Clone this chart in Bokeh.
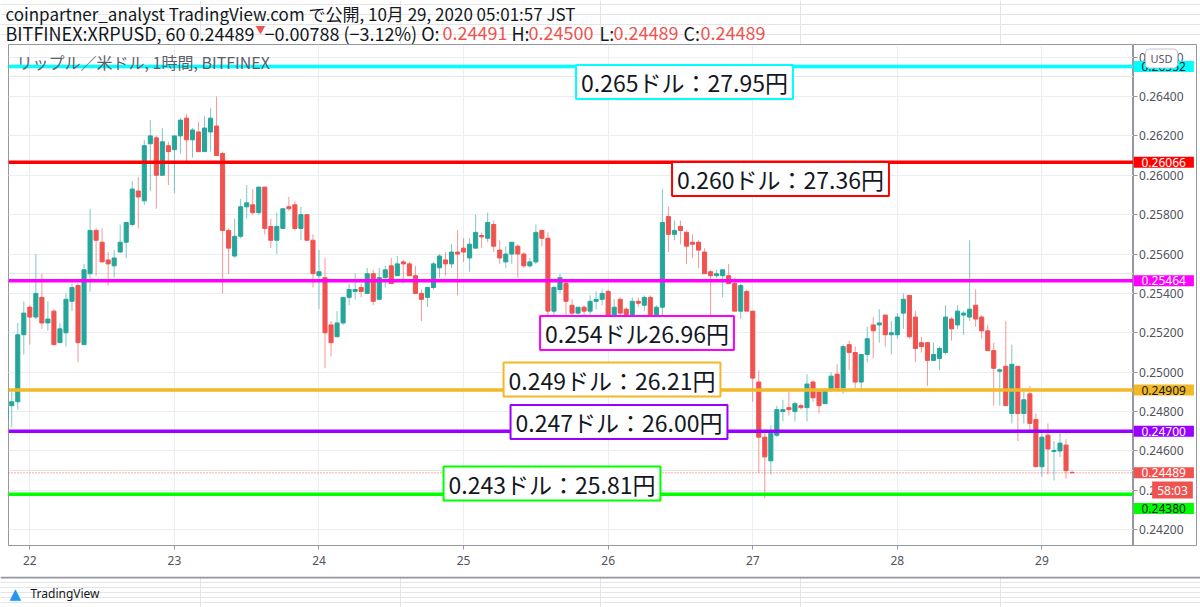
from bokeh.plotting import figure
from bokeh.models import Range1d, FixedTicker, Span, Label, ColumnDataSource, PrintfTickFormatter, Grid
from bokeh.layouts import column, row
from bokeh.embed import file_html
from bokeh.resources import INLINE

# ---- hourly XRP/USD candles (Bitfinex), first candle 21 Oct 20:00 JST ----
start_hour = -4  # hour offset from 22 Oct 00:00 JST of the first candle
opens = [0.2476, 0.2483, 0.2485, 0.2519, 0.2533, 0.2528, 0.2538, 0.2525, 0.2531, 0.2515,
         0.2520, 0.2536, 0.2544, 0.2514, 0.2550, 0.2572, 0.2566, 0.2557, 0.2554, 0.2561,
         0.2566, 0.2575, 0.2592, 0.2587, 0.2616, 0.2619, 0.2600, 0.2615, 0.2613, 0.2620,
         0.2629, 0.2618, 0.2622, 0.2612, 0.2622, 0.2625, 0.2611, 0.2572, 0.2559, 0.2569,
         0.2584, 0.2585, 0.2581, 0.2594, 0.2574, 0.2567, 0.2573, 0.2584, 0.2585, 0.2573,
         0.2580, 0.2567, 0.2549, 0.2548, 0.2524, 0.2518, 0.2525, 0.2538, 0.2541, 0.2543,
         0.2540, 0.2550, 0.2537, 0.2548, 0.2554, 0.2549, 0.2556, 0.2555, 0.2549, 0.2540,
         0.2538, 0.2543, 0.2553, 0.2557, 0.2555, 0.2561, 0.2563, 0.2558, 0.2563, 0.25694,
         0.2568, 0.2575, 0.2562, 0.2556, 0.2560, 0.2564, 0.2560, 0.2554, 0.2556, 0.2572,
         0.2568, 0.2531, 0.2542, 0.2545, 0.2534, 0.2530, 0.2533, 0.2531, 0.2536, 0.2537,
         0.2541, 0.2529, 0.2537, 0.2532, 0.2528, 0.2536, 0.2534, 0.2538, 0.2525, 0.2533,
         0.2579, 0.2570, 0.2574, 0.2571, 0.2566, 0.2566, 0.2561, 0.2551, 0.2549, 0.2549,
         0.2549, 0.2545, 0.2531, 0.2541, 0.2531, 0.2495, 0.2467, 0.2455, 0.2468, 0.2480,
         0.2482, 0.2480, 0.2483, 0.2482, 0.2495, 0.2490, 0.2484, 0.2491, 0.2499, 0.2492,
         0.2514, 0.2510, 0.2495, 0.2509, 0.2524, 0.2524, 0.2529, 0.2519, 0.2519, 0.2530,
         0.2539, 0.2528, 0.2515, 0.2515, 0.2506, 0.2507, 0.2510, 0.2527, 0.2524, 0.2529,
         0.2528, 0.2534, 0.2528, 0.2521, 0.2511, 0.25005, 0.2503, 0.2479, 0.2503, 0.2479,
         0.2489, 0.2476, 0.2452, 0.2468, 0.24597, 0.2460, 0.2463, 0.24491]
highs = [0.2483, 0.2490, 0.2525, 0.2536, 0.2534, 0.2560, 0.2550, 0.2536, 0.2532, 0.2525,
         0.2540, 0.2545, 0.2545, 0.2555, 0.2583, 0.2573, 0.2573, 0.2561, 0.2562, 0.2575,
         0.2576, 0.2597, 0.2599, 0.2618, 0.2628, 0.2620, 0.2624, 0.2617, 0.2620, 0.2629,
         0.2631, 0.2624, 0.2627, 0.2630, 0.2634, 0.2640, 0.2612, 0.2573, 0.2578, 0.2588,
         0.2595, 0.2593, 0.2594, 0.2594, 0.2578, 0.2581, 0.2583, 0.2589, 0.2587, 0.2584,
         0.2580, 0.2570, 0.2562, 0.2558, 0.2526, 0.2531, 0.2538, 0.2545, 0.2550, 0.2545,
         0.2553, 0.2552, 0.2553, 0.2554, 0.2558, 0.2559, 0.2557, 0.2556, 0.2554, 0.2542,
         0.2543, 0.2556, 0.2560, 0.2561, 0.2565, 0.2572, 0.2568, 0.2568, 0.2580, 0.2571,
         0.2581, 0.2577, 0.2567, 0.2564, 0.2566, 0.2565, 0.2561, 0.2558, 0.2575, 0.2572,
         0.2571, 0.2544, 0.2550, 0.2546, 0.2537, 0.2533, 0.2534, 0.2539, 0.2541, 0.2542,
         0.2542, 0.2537, 0.2538, 0.2533, 0.2538, 0.2538, 0.2539, 0.2539, 0.2534, 0.2593,
         0.2584, 0.2577, 0.2577, 0.2572, 0.2570, 0.2567, 0.2563, 0.2552, 0.2552, 0.2552,
         0.2555, 0.2548, 0.2545, 0.2542, 0.2531, 0.2501, 0.2471, 0.2473, 0.2483, 0.2486,
         0.2490, 0.2485, 0.2484, 0.2499, 0.2496, 0.2490, 0.2492, 0.2500, 0.2504, 0.2514,
         0.2516, 0.2513, 0.2509, 0.2523, 0.2528, 0.2532, 0.2529, 0.2526, 0.2530, 0.2540,
         0.2539, 0.2531, 0.2518, 0.2515, 0.2515, 0.2513, 0.2534, 0.2528, 0.2534, 0.2531,
         0.2567, 0.2542, 0.2529, 0.2524, 0.2515, 0.2502, 0.2526, 0.2514, 0.2503, 0.2490,
         0.2493, 0.2479, 0.2469, 0.2474, 0.2465, 0.2469, 0.2466, 0.24500]
lows = [0.2476, 0.2472, 0.2481, 0.2509, 0.2514, 0.2527, 0.2522, 0.2521, 0.2514, 0.2515,
        0.2513, 0.2531, 0.2505, 0.2514, 0.2541, 0.2549, 0.2556, 0.2544, 0.2548, 0.2561,
        0.2558, 0.2574, 0.2573, 0.2585, 0.2592, 0.2583, 0.2600, 0.2595, 0.2591, 0.2611,
        0.2607, 0.2609, 0.2612, 0.2612, 0.2612, 0.2610, 0.2540, 0.2550, 0.2558, 0.2568,
        0.2578, 0.2580, 0.2580, 0.2570, 0.2563, 0.2560, 0.2573, 0.2582, 0.2572, 0.2567,
        0.2567, 0.2543, 0.2532, 0.2502, 0.2508, 0.2518, 0.2524, 0.2534, 0.2537, 0.2538,
        0.2540, 0.2534, 0.2537, 0.2543, 0.2545, 0.2549, 0.2545, 0.2549, 0.2540, 0.2526,
        0.2533, 0.2542, 0.2548, 0.2549, 0.2553, 0.2539, 0.2556, 0.2551, 0.2563, 0.2563,
        0.2566, 0.2561, 0.2555, 0.2553, 0.2555, 0.2548, 0.2553, 0.2553, 0.2555, 0.2564,
        0.2515, 0.2517, 0.2540, 0.2524, 0.2524, 0.2524, 0.2525, 0.2526, 0.2532, 0.2534,
        0.2526, 0.2511, 0.2517, 0.2528, 0.2526, 0.2533, 0.2531, 0.2523, 0.2525, 0.2529,
        0.2561, 0.2567, 0.2565, 0.2555, 0.2558, 0.2553, 0.2550, 0.2528, 0.2548, 0.2538,
        0.2545, 0.2531, 0.2527, 0.2531, 0.2485, 0.2449, 0.2436, 0.2448, 0.2467, 0.2475,
        0.2478, 0.2475, 0.2481, 0.2475, 0.2485, 0.2479, 0.2484, 0.2490, 0.2491, 0.2489,
        0.2501, 0.2492, 0.2491, 0.2505, 0.2507, 0.2515, 0.2513, 0.2509, 0.2517, 0.2522,
        0.2517, 0.2505, 0.2510, 0.2493, 0.2506, 0.2501, 0.2509, 0.2516, 0.2522, 0.2519,
        0.2526, 0.2523, 0.2517, 0.2511, 0.2483, 0.2483, 0.2483, 0.2474, 0.2465, 0.2474,
        0.2470, 0.2452, 0.2447, 0.2448, 0.2445, 0.2457, 0.2446, 0.24489]
closes = [0.2482, 0.2485, 0.2519, 0.2530, 0.2528, 0.2540, 0.2525, 0.2527, 0.2514, 0.2522,
          0.2537, 0.2543, 0.2515, 0.2552, 0.2572, 0.2567, 0.2556, 0.2555, 0.2558, 0.2566,
          0.2576, 0.2593, 0.2589, 0.2615, 0.2620, 0.2600, 0.2617, 0.2612, 0.2620, 0.2628,
          0.2618, 0.2623, 0.2612, 0.2624, 0.2629, 0.2610, 0.2572, 0.2563, 0.2569, 0.2584,
          0.2586, 0.2581, 0.2594, 0.2573, 0.2567, 0.2574, 0.2583, 0.2583, 0.2573, 0.2580,
          0.2567, 0.2550, 0.2551, 0.2520, 0.2515, 0.2525, 0.2538, 0.2542, 0.2542, 0.2541,
          0.2550, 0.2536, 0.2548, 0.2552, 0.2545, 0.2555, 0.2555, 0.2549, 0.2540, 0.2537,
          0.2543, 0.2555, 0.2559, 0.2555, 0.2561, 0.2560, 0.2561, 0.2565, 0.2571, 0.25687,
          0.2576, 0.2564, 0.2558, 0.2560, 0.2566, 0.2560, 0.2554, 0.2556, 0.2571, 0.2568,
          0.2531, 0.2543, 0.2548, 0.2536, 0.2530, 0.2533, 0.2531, 0.2536, 0.2537, 0.2540,
          0.2529, 0.2533, 0.2530, 0.2529, 0.2536, 0.2535, 0.2538, 0.2527, 0.2533, 0.2576,
          0.2570, 0.2572, 0.2572, 0.2564, 0.2565, 0.2562, 0.2550, 0.2549, 0.2550, 0.2552,
          0.2545, 0.2531, 0.2544, 0.2531, 0.2497, 0.2467, 0.2457, 0.2469, 0.2481, 0.2481,
          0.2481, 0.2484, 0.2482, 0.2494, 0.2487, 0.2483, 0.2491, 0.2498, 0.2492, 0.2513,
          0.2510, 0.2495, 0.2509, 0.2517, 0.2521, 0.2525, 0.2519, 0.2520, 0.2528, 0.2537,
          0.2518, 0.2512, 0.2513, 0.2506, 0.2509, 0.2512, 0.2528, 0.2522, 0.2531, 0.2530,
          0.2532, 0.2527, 0.2521, 0.2511, 0.2502, 0.25012, 0.2483, 0.2504, 0.2479, 0.2486,
          0.2474, 0.2452, 0.2467, 0.2461, 0.24603, 0.2464, 0.2450, 0.24489]

day_ticks = [0, 24, 48, 72, 96, 120, 144, 168]
day_labels = ["22", "23", "24", "25", "26", "27", "28", "29"]
price_ticks = [0.242, 0.244, 0.246, 0.248, 0.250, 0.252, 0.254, 0.256, 0.258, 0.260, 0.262, 0.264, 0.266]

level_prices = [0.26552, 0.26066, 0.25464, 0.24909, 0.24700, 0.24380]
level_colors = ["#00FFFF", "#FF0000", "#FF00FF", "#F2B826", "#9900FF", "#00FF00"]
level_text_colors = ["#131722", "white", "white", "#131722", "white", "#131722"]
level_tags = ["0.26552", "0.26066", "0.25464", "0.24909", "0.24700", "0.24380"]
level_tag_y = [0.26552, 0.26066, 0.25464, 0.24909, 0.24700, 0.24308]
level_notes = ["0.265ドル：27.95円", "0.260ドル：27.36円", "0.254ドル26.96円",
               "0.249ドル：26.21円", "0.247ドル：26.00円", "0.243ドル：25.81円"]
note_pos = [(676, 463.5), (772, 366.5), (628.5, 212.5), (603.5, 166), (610.5, 123.5), (543.5, 62)]

last_price = 0.24489
UP, DOWN = "#26a69a", "#ef5350"
FONT_JP = "Noto Sans CJK JP"
INK = "#131722"
BORDER = "#9598a1"

hours = [start_hour + i for i in range(len(opens))]
colors = [UP if c >= o else DOWN for o, c in zip(opens, closes)]
src = ColumnDataSource(dict(
    x=hours, o=opens, h=highs, l=lows, c=closes,
    top=[max(o, c) for o, c in zip(opens, closes)],
    bot=[min(o, c) for o, c in zip(opens, closes)],
    color=colors))

y_range = Range1d(0.24120, 0.26664)

# ---------------- header ----------------
header = figure(width=1200, height=44, x_range=Range1d(0, 1200), y_range=Range1d(0, 44),
                output_backend="svg", toolbar_location=None, x_axis_location=None, y_axis_location=None,
                min_border=0)
header.outline_line_color = None
header.background_fill_color = "white"
header.add_layout(Label(x=5, y=31, x_units="screen", y_units="screen",
                        text="coinpartner_analyst TradingView.com で公開, 10月 29, 2020 05:01:57 JST",
                        text_font=FONT_JP, text_font_size="17px", text_color=INK, text_baseline="middle"))
segs = [(5, "BITFINEX:XRPUSD, 60 0.24489", INK, "18px"),
        (255, "▼", DOWN, "10px"),
        (264, "−0.00788 (−3.12%) O:", INK, "18px"),
        (442, "0.24491", DOWN, "18px"),
        (511, "H:", INK, "18px"),
        (528, "0.24500", DOWN, "18px"),
        (599, "L:", INK, "18px"),
        (613, "0.24489", DOWN, "18px"),
        (683, "C:", INK, "18px"),
        (700, "0.24489", DOWN, "18px")]
for sx, txt, col, fs in segs:
    header.add_layout(Label(x=sx, y=12 if txt != "▼" else 15, x_units="screen", y_units="screen", text=txt,
                            text_font=FONT_JP, text_font_size=fs, text_color=col, text_baseline="middle"))

# ---------------- main chart ----------------
p = figure(width=1133, height=532, x_range=Range1d(-3.54, 183.2), y_range=y_range,
           output_backend="svg", toolbar_location=None, y_axis_location=None,
           min_border_left=8, min_border_right=0, min_border_top=0, min_border_bottom=31)
p.background_fill_color = "white"
p.outline_line_color = BORDER

GRID = "#eaeef4"
p.xgrid.ticker = FixedTicker(ticks=day_ticks)
p.xgrid.grid_line_color = GRID
p.add_layout(Grid(dimension=1, ticker=FixedTicker(ticks=price_ticks), grid_line_color=GRID))

xa = p.xaxis[0]
xa.ticker = FixedTicker(ticks=day_ticks)
xa.major_label_overrides = {t: l for t, l in zip(day_ticks, day_labels)}
xa.axis_line_color = BORDER
xa.major_tick_line_color = BORDER
xa.major_tick_in = 0
xa.major_tick_out = 4
xa.minor_tick_line_color = None
xa.major_label_text_color = "#50535e"
xa.major_label_text_font = "Noto Sans"
xa.major_label_text_font_size = "12px"
xa.major_label_standoff = 6

p.segment(x0="x", y0="l", x1="x", y1="h", source=src, line_color="color", line_alpha=0.6, line_width=1)
p.vbar(x="x", width=0.68, top="top", bottom="bot", source=src, fill_color="color", line_color="color", line_width=1)

p.add_layout(Span(location=last_price, dimension="width", line_color=DOWN, line_width=1, line_dash="1 2"))
for price, col in zip(level_prices, level_colors):
    p.add_layout(Span(location=price, dimension="width", line_color=col, line_width=3.5))

for txt, col, (sx, sy) in zip(level_notes, level_colors, note_pos):
    p.add_layout(Label(x=sx, y=sy, x_units="screen", y_units="screen", text=txt, text_font=FONT_JP,
                       text_font_size="23px", text_color=INK, text_align="center", text_baseline="middle",
                       background_fill_color="white", border_line_color=col, border_line_width=2,
                       padding=(5, 0)))

p.add_layout(Label(x=8, y=484, x_units="screen", y_units="screen", text="リップル／米ドル, 1時間, BITFINEX",
                   text_font=FONT_JP, text_font_size="16px", text_color="#5d606b", text_baseline="middle"))

# ---------------- price scale (right) ----------------
scale = figure(width=64, height=532, x_range=Range1d(0, 1), y_range=y_range,
               output_backend="svg", toolbar_location=None, x_axis_location=None, y_axis_location="left",
               min_border_left=0, min_border_right=0, min_border_top=0, min_border_bottom=31)
scale.outline_line_color = BORDER
scale.background_fill_color = "white"
scale.grid.visible = False
ya = scale.yaxis[0]
ya.ticker = FixedTicker(ticks=price_ticks)
ya.formatter = PrintfTickFormatter(format="%.5f")
ya.axis_line_color = BORDER
ya.major_tick_line_color = BORDER
ya.major_tick_in = 4
ya.major_tick_out = 0
ya.minor_tick_line_color = None
ya.major_label_text_color = "#50535e"
ya.major_label_text_font = "Noto Sans"
ya.major_label_text_font_size = "12px"
ya.major_label_standoff = -50

for tag, ty, col, tc in zip(level_tags, level_tag_y, level_colors, level_text_colors):
    scale.add_layout(Label(x=0, y=ty, x_units="screen", y_units="data", text=tag, text_font="Noto Sans",
                           text_font_size="12px", text_color=tc, text_align="left", text_baseline="middle",
                           background_fill_color=col, padding=(8, 1)))
scale.add_layout(Label(x=0, y=last_price, x_units="screen", y_units="data", text="0.24489", text_font="Noto Sans",
                       text_font_size="12px", text_color="white", text_align="left", text_baseline="middle",
                       background_fill_color=DOWN, padding=(8, 1)))
scale.add_layout(Label(x=39, y=55.5, x_units="screen", y_units="screen", text="58:03", text_font="Noto Sans",
                       text_font_size="12px", text_color="white", text_align="center", text_baseline="middle",
                       background_fill_color=DOWN, padding=(5, 0)))
scale.add_layout(Label(x=28, y=487, x_units="screen", y_units="screen", text="USD", text_font="Noto Sans",
                       text_font_size="11px", text_color="#50535e", text_align="center", text_baseline="middle",
                       background_fill_color="white", border_line_color="#c0c3cc", border_line_width=1,
                       border_radius=4, padding=(5, 2)))

# ---------------- footer ----------------
footer = figure(width=1200, height=31, x_range=Range1d(0, 1200), y_range=Range1d(0, 31),
                output_backend="svg", toolbar_location=None, x_axis_location=None, y_axis_location=None,
                min_border=0)
footer.outline_line_color = None
footer.add_layout(Span(location=30, dimension="width", line_color=BORDER, line_width=2))
footer.add_layout(Label(x=9, y=14, x_units="screen", y_units="screen", text="▲", text_font="DejaVu Sans",
                        text_font_size="15px", text_color="#2196f3", text_baseline="middle"))
footer.add_layout(Label(x=30, y=14, x_units="screen", y_units="screen", text="TradingView", text_font="Noto Sans",
                        text_font_size="12px", text_color=INK, text_baseline="middle"))

layout = column(header, row(p, scale), footer)
open("out.html", "w").write(file_html(layout, INLINE))
